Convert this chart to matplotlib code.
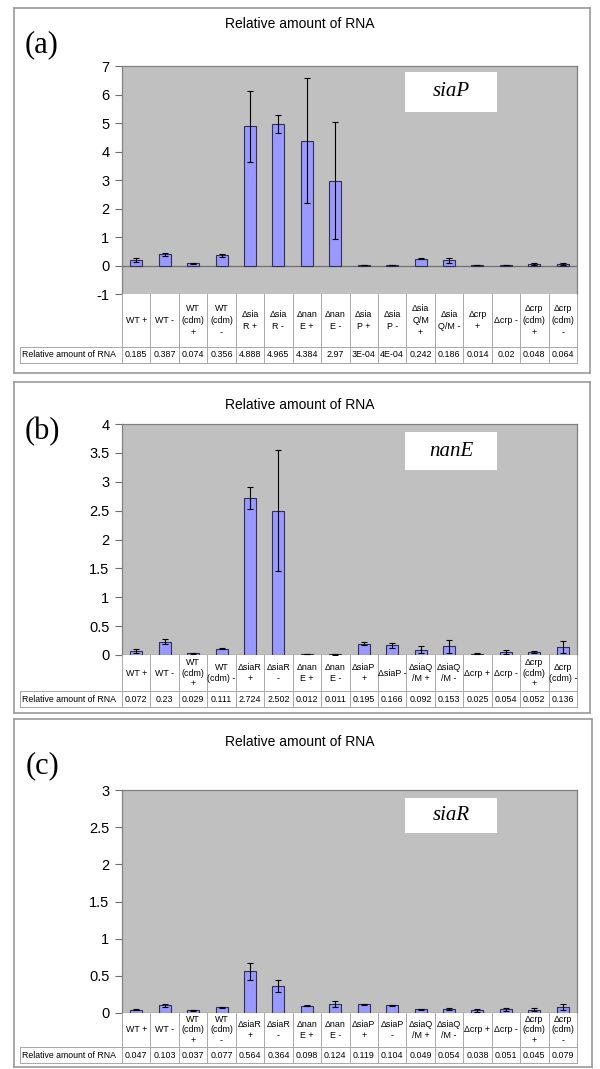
import matplotlib
matplotlib.use("Agg")
import matplotlib.pyplot as plt

W, H = 600, 1069

# strain / condition labels, as they wrap in each panel's table header
labels_a = ["WT +", "WT -", "WT\n(cdm)\n+", "WT\n(cdm)\n-", "\u0394sia\nR +", "\u0394sia\nR -",
            "\u0394nan\nE +", "\u0394nan\nE -", "\u0394sia\nP +", "\u0394sia\nP -",
            "\u0394sia\nQ/M\n+", "\u0394sia\nQ/M -", "\u0394crp\n+", "\u0394crp -",
            "\u0394crp\n(cdm)\n+", "\u0394crp\n(cdm)\n-"]
labels_b = ["WT +", "WT -", "WT\n(cdm)\n+", "WT\n(cdm) -", "\u0394siaR\n+", "\u0394siaR\n-",
            "\u0394nan\nE +", "\u0394nan\nE -", "\u0394siaP\n+", "\u0394siaP -",
            "\u0394siaQ\n/M +", "\u0394siaQ\n/M -", "\u0394crp +", "\u0394crp -",
            "\u0394crp\n(cdm)\n+", "\u0394crp\n(cdm) -"]
labels_c = ["WT +", "WT -", "WT\n(cdm)\n+", "WT\n(cdm)\n-", "\u0394siaR\n+", "\u0394siaR\n-",
            "\u0394nan\nE +", "\u0394nan\nE -", "\u0394siaP\n+", "\u0394siaP\n-",
            "\u0394siaQ\n/M +", "\u0394siaQ\n/M -", "\u0394crp +", "\u0394crp -",
            "\u0394crp\n(cdm)\n+", "\u0394crp\n(cdm)\n-"]

# relative amount of RNA (as printed in the tables) and error bar half-widths
values_a = ["0.185", "0.387", "0.074", "0.356", "4.888", "4.965", "4.384", "2.97",
            "3E-04", "4E-04", "0.242", "0.186", "0.014", "0.02", "0.048", "0.064"]
errors_a = [0.07, 0.05, 0.02, 0.06, 1.25, 0.30, 2.18, 2.05,
            0.0, 0.0, 0.03, 0.09, 0.005, 0.005, 0.03, 0.03]

values_b = ["0.072", "0.23", "0.029", "0.111", "2.724", "2.502", "0.012", "0.011",
            "0.195", "0.166", "0.092", "0.153", "0.025", "0.054", "0.052", "0.136"]
errors_b = [0.03, 0.04, 0.005, 0.015, 0.19, 1.04, 0.003, 0.003,
            0.03, 0.04, 0.06, 0.11, 0.005, 0.04, 0.02, 0.10]

values_c = ["0.047", "0.103", "0.037", "0.077", "0.564", "0.364", "0.098", "0.124",
            "0.119", "0.104", "0.049", "0.054", "0.038", "0.051", "0.045", "0.079"]
errors_c = [0.005, 0.02, 0.005, 0.005, 0.115, 0.075, 0.01, 0.04,
            0.005, 0.01, 0.01, 0.01, 0.02, 0.02, 0.02, 0.04]

genes = ["siaP", "nanE", "siaR"]
tags = ["(a)", "(b)", "(c)"]
yticks_a = [-1, 0, 1, 2, 3, 4, 5, 6, 7]
yticks_b = [0, 0.5, 1, 1.5, 2, 2.5, 3, 3.5, 4]
yticks_c = [0, 0.5, 1, 1.5, 2, 2.5, 3]

# pixel layout of each panel
panels = [
    dict(box=(14, 8, 590, 373), title=24, tag=(42, 45), plot=(66, 294),
         head=(294, 347), row=(347, 363), gbox=(405, 72, 497, 112), ls=1.45),
    dict(box=(14, 382, 590, 713), title=405, tag=(42, 432), plot=(424, 655),
         head=(655, 691), row=(691, 707), gbox=(405, 432, 497, 470), ls=1.2),
    dict(box=(14, 719, 592, 1067), title=742, tag=(42, 766), plot=(790, 1013),
         head=(1013, 1047), row=(1047, 1063), gbox=(405, 798, 497, 833), ls=1.2),
]

PX0, PX1 = 122, 577      # plot area left/right
TX0 = 20                 # table label column left
BAR = "#9999ff"
BG = "#c0c0c0"
GRID = "#a8a8a8"
SANS = "Liberation Sans"
SERIF = "Liberation Serif"

fig = plt.figure(figsize=(W / 100, H / 100), dpi=100)


def px_axes(x0, y0, x1, y1):
    return fig.add_axes([x0 / W, 1 - y1 / H, (x1 - x0) / W, (y1 - y0) / H])


def draw_panel(p, labels, values, errors, yticks, gene, tag):
    n = len(labels)
    nums = [float(v) for v in values]

    # outer frame
    bx0, by0, bx1, by1 = p["box"]
    frame = px_axes(bx0, by0, bx1, by1)
    frame.set_xticks([])
    frame.set_yticks([])
    frame.patch.set_alpha(0)
    for s in frame.spines.values():
        s.set_color("#9a9a9a")
        s.set_linewidth(1.2)

    fig.text(300 / W, 1 - p["title"] / H, "Relative amount of RNA", ha="center",
             va="center", fontsize=10, family=SANS)
    fig.text(p["tag"][0] / W, 1 - p["tag"][1] / H, tag, ha="center", va="center",
             fontsize=22, family=SERIF)

    # bars
    top, bot = p["plot"]
    ax = px_axes(PX0, top, PX1, bot)
    ax.set_facecolor(BG)
    x = list(range(n))
    ax.bar(x, nums, width=0.42, color=BAR, edgecolor="#303050", linewidth=0.8, zorder=2)
    ax.errorbar(x, nums, yerr=errors, fmt="none", ecolor="black", elinewidth=0.8,
                capsize=2.5, capthick=0.8, zorder=3)
    ax.axhline(0, color="#707070", linewidth=0.9, zorder=1)
    ax.set_xlim(-0.5, n - 0.5)
    ax.set_ylim(yticks[0], yticks[-1])
    ax.set_yticks(yticks)
    ax.set_yticklabels([f"{t:g}" for t in yticks], fontsize=10.5, family=SANS)
    ax.set_xticks([])
    ax.tick_params(axis="y", length=5, width=0.8, color="#707070", pad=4)
    for s in ax.spines.values():
        s.set_color("#808080")
        s.set_linewidth(0.9)
    ax.spines["bottom"].set_visible(False)

    # gene name box
    gx0, gy0, gx1, gy1 = p["gbox"]
    gb = px_axes(gx0, gy0, gx1, gy1)
    gb.set_xticks([])
    gb.set_yticks([])
    gb.set_facecolor("white")
    for s in gb.spines.values():
        s.set_visible(False)
    gb.text(0.5, 0.5, gene, ha="center", va="center", fontsize=15, family=SERIF,
            style="italic", transform=gb.transAxes)

    # data table under the plot
    h0, h1 = p["head"]
    r0, r1 = p["row"]
    unit = (PX1 - PX0) / n
    left = -0.5 - (PX0 - TX0) / unit
    tb = px_axes(TX0, h0, PX1, r1)
    tb.set_xlim(left, n - 0.5)
    tb.set_ylim(r1, h0)
    tb.axis("off")
    for i in range(n + 1):
        tb.plot([i - 0.5, i - 0.5], [h0, r1], color=GRID, linewidth=0.7, clip_on=False)
    tb.plot([left, left], [r0, r1], color=GRID, linewidth=0.7, clip_on=False)
    for yy in (r0, r1):
        tb.plot([left, n - 0.5], [yy, yy], color=GRID, linewidth=0.7, clip_on=False)
    for i, lab in enumerate(labels):
        tb.text(i, (h0 + r0) / 2, lab, ha="center", va="center", fontsize=6.4,
                family=SANS, linespacing=p["ls"])
        tb.text(i, (r0 + r1) / 2, values[i], ha="center", va="center", fontsize=6.4,
                family=SANS)
    tb.text(left + 0.08, (r0 + r1) / 2, "Relative amount of RNA", ha="left", va="center",
            fontsize=6.3, family=SANS)


draw_panel(panels[0], labels_a, values_a, errors_a, yticks_a, genes[0], tags[0])
draw_panel(panels[1], labels_b, values_b, errors_b, yticks_b, genes[1], tags[1])
draw_panel(panels[2], labels_c, values_c, errors_c, yticks_c, genes[2], tags[2])

fig.savefig("out.png", dpi=100)
